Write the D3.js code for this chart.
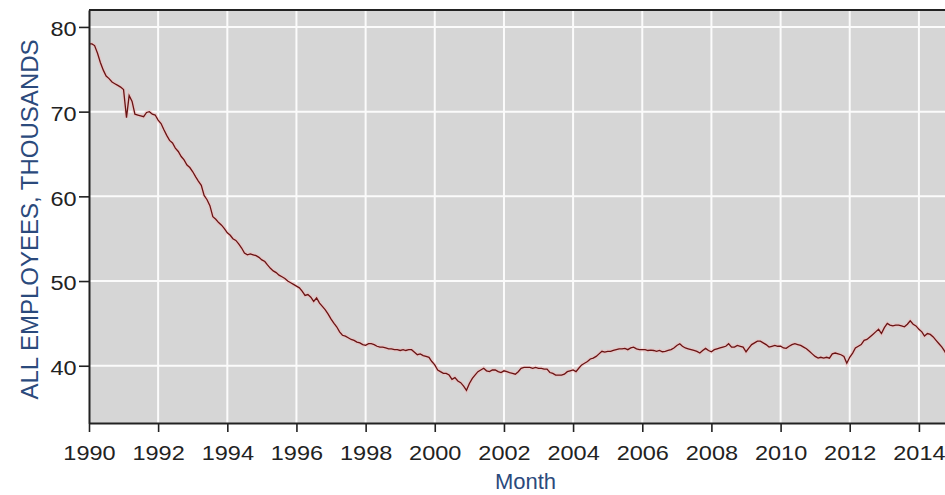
<!DOCTYPE html>
<html>
<head>
<meta charset="utf-8">
<script src="https://cdn.jsdelivr.net/npm/d3@7"></script>
<style>
  body { margin: 0; background: #fff; overflow: hidden; }
  svg { display: block; font-family: "Liberation Sans", Arial, sans-serif; }
</style>
</head>
<body>
<div id="chart"></div>
<script>
// Monthly values starting Jan 1990, all employees in thousands
const startYear = 1990
const employees = [
  78.0, 78.0, 77.8, 76.9, 75.8, 74.9, 74.2, 73.9, 73.5, 73.3, 73.1, 72.9, // 1990
  72.6, 69.3, 71.9, 71.2, 69.7, 69.6, 69.5, 69.4, 69.9, 70.0, 69.7, 69.6, // 1991
  69.0, 68.6, 67.9, 67.2, 66.6, 66.3, 65.7, 65.3, 64.7, 64.3, 63.7, 63.4, // 1992
  62.9, 62.3, 61.8, 61.3, 60.1, 59.6, 58.9, 57.6, 57.3, 56.9, 56.6, 56.2, // 1993
  55.7, 55.4, 55.0, 54.8, 54.4, 53.9, 53.3, 53.1, 53.2, 53.1, 53.0, 52.8, // 1994
  52.5, 52.3, 51.9, 51.5, 51.2, 51.0, 50.7, 50.5, 50.3, 50.0, 49.8, 49.6, // 1995
  49.4, 49.2, 48.8, 48.3, 48.4, 48.1, 47.6, 48.0, 47.4, 47.0, 46.6, 46.1, // 1996
  45.5, 45.0, 44.6, 44.0, 43.6, 43.5, 43.3, 43.1, 43.0, 42.8, 42.7, 42.5, // 1997
  42.4, 42.6, 42.6, 42.5, 42.3, 42.2, 42.2, 42.1, 42.0, 42.0, 41.9, 41.9, // 1998
  41.8, 41.9, 41.8, 41.9, 41.9, 41.6, 41.3, 41.4, 41.2, 41.1, 41.0, 40.5, // 1999
  40.1, 39.5, 39.3, 39.1, 39.1, 38.9, 38.4, 38.6, 38.2, 38.0, 37.6, 37.1, // 2000
  37.9, 38.5, 38.9, 39.3, 39.5, 39.7, 39.4, 39.3, 39.5, 39.5, 39.3, 39.2, // 2001
  39.4, 39.3, 39.2, 39.1, 39.0, 39.3, 39.7, 39.8, 39.8, 39.8, 39.7, 39.8, // 2002
  39.7, 39.7, 39.6, 39.6, 39.2, 39.1, 38.9, 38.9, 38.9, 39.0, 39.3, 39.4, // 2003
  39.5, 39.3, 39.7, 40.1, 40.3, 40.5, 40.8, 40.9, 41.1, 41.4, 41.7, 41.6, // 2004
  41.7, 41.7, 41.8, 41.9, 42.0, 42.0, 42.05, 41.9, 42.1, 42.2, 42.0, 41.9, // 2005
  41.9, 41.9, 41.8, 41.85, 41.8, 41.7, 41.8, 41.65, 41.7, 41.8, 41.9, 42.1, // 2006
  42.4, 42.6, 42.3, 42.1, 42.0, 41.9, 41.8, 41.7, 41.5, 41.8, 42.05, 41.8, // 2007
  41.65, 41.9, 42.0, 42.1, 42.2, 42.3, 42.6, 42.2, 42.2, 42.4, 42.3, 42.2, // 2008
  41.65, 42.1, 42.5, 42.7, 42.9, 42.9, 42.7, 42.5, 42.2, 42.3, 42.4, 42.3, // 2009
  42.3, 42.1, 42.05, 42.3, 42.5, 42.6, 42.5, 42.4, 42.2, 42.0, 41.7, 41.4, // 2010
  41.1, 40.9, 41.0, 40.9, 41.0, 40.9, 41.4, 41.5, 41.4, 41.3, 41.1, 40.3, // 2011
  41.0, 41.5, 42.1, 42.3, 42.5, 43.0, 43.1, 43.4, 43.7, 44.0, 44.3, 43.8, // 2012
  44.5, 45.0, 44.8, 44.7, 44.8, 44.8, 44.7, 44.6, 44.9, 45.3, 44.9, 44.7, // 2013
  44.3, 44.0, 43.5, 43.8, 43.7, 43.4, 43.0, 42.6, 42.2, 41.7, 41.0, 40.4  // 2014
]
const yTicks = [40, 50, 60, 70, 80]
const xTickYears = [1990, 1992, 1994, 1996, 1998, 2000, 2002, 2004, 2006, 2008, 2010, 2012, 2014]

const width = 945
const height = 495
// plot box runs past the right edge of the picture, like the original crop
const plotLeft = 89, plotTop = 10, plotBottom = 423, plotRight = 962

const data = employees.map((v, i) => ({ date: new Date(Date.UTC(startYear, i, 1)), value: v }))

const x = d3.scaleUtc()
  .domain([new Date(Date.UTC(1990, 0, 1)), new Date(Date.UTC(2015, 3, 1))])
  .range([plotLeft, plotRight])

const y = d3.scaleLinear()
  .domain([33.24, 82])
  .range([plotBottom, plotTop])

const svg = d3.select("#chart").append("svg")
  .attr("width", width)
  .attr("height", height)

// plot background
svg.append("rect")
  .attr("x", plotLeft).attr("y", plotTop)
  .attr("width", plotRight - plotLeft).attr("height", plotBottom - plotTop)
  .attr("fill", "#d6d6d6")

// grid
svg.append("g")
  .attr("stroke", "#fbfbfb")
  .attr("stroke-width", 2)
  .call(g => g.selectAll(".v")
    .data(xTickYears)
    .join("line")
    .attr("class", "v")
    .attr("x1", d => x(new Date(Date.UTC(d, 0, 1))))
    .attr("x2", d => x(new Date(Date.UTC(d, 0, 1))))
    .attr("y1", plotTop).attr("y2", plotBottom))
  .call(g => g.selectAll(".h")
    .data(yTicks)
    .join("line")
    .attr("class", "h")
    .attr("x1", plotLeft).attr("x2", plotRight)
    .attr("y1", d => y(d)).attr("y2", d => y(d)))

// the series
svg.append("defs").append("clipPath").attr("id", "plot")
  .append("rect")
  .attr("x", plotLeft).attr("y", plotTop)
  .attr("width", plotRight - plotLeft).attr("height", plotBottom - plotTop)

const line = d3.line()
  .x(d => x(d.date))
  .y(d => y(d.value))

// soft pink fringe seen around the line in the original
svg.append("path")
  .datum(data)
  .attr("clip-path", "url(#plot)")
  .attr("fill", "none")
  .attr("stroke", "#f2b8b8")
  .attr("stroke-width", 4)
  .attr("stroke-opacity", 0.45)
  .attr("d", line)

svg.append("path")
  .datum(data)
  .attr("clip-path", "url(#plot)")
  .attr("fill", "none")
  .attr("stroke", "#6a1212")
  .attr("stroke-width", 1.3)
  .attr("d", line)

// top border
svg.append("line")
  .attr("x1", plotLeft).attr("x2", plotRight)
  .attr("y1", plotTop).attr("y2", plotTop)
  .attr("stroke", "#222")
  .attr("stroke-width", 2)

// axes
const xAxis = d3.axisBottom(x)
  .tickValues(xTickYears.map(d => new Date(Date.UTC(d, 0, 1))))
  .tickFormat(d3.utcFormat("%Y"))
  .tickSize(9)
  .tickPadding(13)
  .tickSizeOuter(0)

const yAxis = d3.axisLeft(y)
  .tickValues(yTicks)
  .tickSize(10)
  .tickPadding(1)
  .tickSizeOuter(0)

svg.append("g")
  .attr("transform", `translate(0,${plotBottom})`)
  .call(xAxis)
  .call(g => g.select(".domain").attr("stroke", "#222").attr("stroke-width", 2))
  .call(g => g.selectAll(".tick line").attr("stroke", "#222").attr("stroke-width", 1.6))
  .call(g => g.selectAll(".tick text")
    .attr("font-size", 21)
    .attr("fill", "#222")
    .attr("font-family", "Liberation Sans, Arial, sans-serif")
    .attr("transform", "scale(1.12,1)"))

svg.append("g")
  .attr("transform", `translate(${plotLeft},0)`)
  .call(yAxis)
  .call(g => g.select(".domain").attr("stroke", "#222").attr("stroke-width", 2))
  .call(g => g.selectAll(".tick line").attr("stroke", "#222").attr("stroke-width", 1.6))
  .call(g => g.selectAll(".tick text")
    .attr("font-size", 21)
    .attr("fill", "#222")
    .attr("dy", "0.42em")
    .attr("font-family", "Liberation Sans, Arial, sans-serif")
    .attr("transform", "scale(1.12,1)"))

// axis titles
svg.append("text")
  .attr("transform", `translate(38,${(plotTop + plotBottom) / 2 + 3}) rotate(-90)`)
  .attr("text-anchor", "middle")
  .attr("font-size", 24)
  .attr("fill", "#2b4a7c")
  .text("ALL EMPLOYEES, THOUSANDS")

svg.append("text")
  .attr("x", (plotLeft + plotRight) / 2)
  .attr("y", 489)
  .attr("text-anchor", "middle")
  .attr("font-size", 22)
  .attr("fill", "#2b4a7c")
  .text("Month")
</script>
</body>
</html>
